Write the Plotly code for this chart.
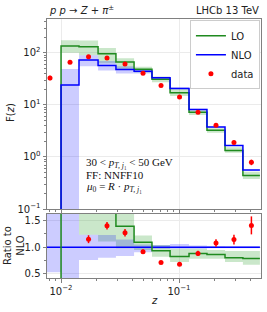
import plotly.graph_objects as go
import numpy as np

# ---------------- data ----------------
z_edges = [0.0065, 0.0100, 0.0142, 0.0206, 0.0292, 0.0416, 0.059, 0.084, 0.1216, 0.1726, 0.2455, 0.348, 0.485]
lo_vals = [0.0, 136, 131, 96, 67, 48.4, 31.0, 17.1, 7.2, 3.24, 1.33, 0.44]
nlo_vals = [0.0, 24, 73, 57, 48, 44.3, 33.3, 20.7, 8.15, 3.75, 1.66, 0.56]
lo_band_lo = [100, 90, 63, 47, 42, 27.3, 14.9, 6.36, 2.93, 1.2, 0.375]
lo_band_hi = [175, 173, 124, 79, 54, 34.6, 20.1, 7.9, 3.56, 1.54, 0.52]
nlo_band_lo = [0.001, 55.5, 45.6, 40, 40, 32.3, 20.1, 7.9, 3.67, 1.63, 0.55]
nlo_band_hi = [49, 90, 70, 55, 46.5, 34.6, 21.9, 8.4, 3.83, 1.69, 0.57]
nlo_ratio_band_bin0 = [0.53, 3.0]
data_vals = [33, 66, 84, 80, 61, 40.5, 23.7, 14.1, 7.2, 4.05, 1.9, 0.79]
data_rel_err = [0.10, 0.06, 0.065, 0.05, 0.055, 0.045, 0.04, 0.045, 0.055, 0.065, 0.08, 0.12]

GREEN = "#1f8a1f"
BLUE = "#0000ff"
RED = "#ff0000"
GREEN_F = "rgba(44,160,44,0.25)"
BLUE_F = "rgba(0,0,255,0.2)"

edges = np.array(z_edges)
centers = np.sqrt(edges[:-1] * edges[1:])
lo = np.array(lo_vals, dtype=float)
nlo = np.array(nlo_vals, dtype=float)
data = np.array(data_vals)
err = data * np.array(data_rel_err)


def step(vals):
    v = list(vals)
    return v + [v[-1]]


fig = go.Figure()

# ---------- top panel ----------
e1 = list(edges[1:])
fig.add_trace(go.Scatter(x=e1, y=step(lo_band_lo), line_shape="hv", mode="lines",
                         line=dict(width=0), showlegend=False, hoverinfo="skip", xaxis="x", yaxis="y"))
fig.add_trace(go.Scatter(x=e1, y=step(lo_band_hi), line_shape="hv", mode="lines", fill="tonexty",
                         fillcolor=GREEN_F, line=dict(width=0), showlegend=False, hoverinfo="skip",
                         xaxis="x", yaxis="y"))
fig.add_trace(go.Scatter(x=e1, y=step(nlo_band_lo), line_shape="hv", mode="lines",
                         line=dict(width=0), showlegend=False, hoverinfo="skip", xaxis="x", yaxis="y"))
fig.add_trace(go.Scatter(x=e1, y=step(nlo_band_hi), line_shape="hv", mode="lines", fill="tonexty",
                         fillcolor=BLUE_F, line=dict(width=0), showlegend=False, hoverinfo="skip",
                         xaxis="x", yaxis="y"))

lo_plot = np.where(lo > 0, lo, 1e-4)
nlo_plot = np.where(nlo > 0, nlo, 1e-4)
fig.add_trace(go.Scatter(x=list(edges), y=step(lo_plot), line_shape="hv", mode="lines",
                         line=dict(color=GREEN, width=1.5), name="LO", xaxis="x", yaxis="y"))
fig.add_trace(go.Scatter(x=list(edges), y=step(nlo_plot), line_shape="hv", mode="lines",
                         line=dict(color=BLUE, width=1.5), name="NLO", xaxis="x", yaxis="y"))
fig.add_trace(go.Scatter(x=list(centers), y=list(data), mode="markers", name="data",
                         marker=dict(color=RED, size=5),
                         error_y=dict(type="data", array=list(err), color=RED, thickness=1.5, width=0),
                         xaxis="x", yaxis="y"))

# ---------- ratio panel ----------
safe = np.where(nlo > 0, nlo, np.nan)
r_lo_lo = list(np.array(lo_band_lo) / nlo[1:])
r_lo_hi = list(np.array(lo_band_hi) / nlo[1:])
r_nlo_lo = [nlo_ratio_band_bin0[0]] + list(np.array(nlo_band_lo) / nlo[1:])
r_nlo_hi = [nlo_ratio_band_bin0[1]] + list(np.array(nlo_band_hi) / nlo[1:])

fig.add_trace(go.Scatter(x=e1, y=step(r_lo_lo), line_shape="hv", mode="lines",
                         line=dict(width=0), showlegend=False, hoverinfo="skip", xaxis="x2", yaxis="y2"))
fig.add_trace(go.Scatter(x=e1, y=step(r_lo_hi), line_shape="hv", mode="lines", fill="tonexty",
                         fillcolor=GREEN_F, line=dict(width=0), showlegend=False, hoverinfo="skip",
                         xaxis="x2", yaxis="y2"))
fig.add_trace(go.Scatter(x=list(edges), y=step(r_nlo_lo), line_shape="hv", mode="lines",
                         line=dict(width=0), showlegend=False, hoverinfo="skip", xaxis="x2", yaxis="y2"))
fig.add_trace(go.Scatter(x=list(edges), y=step(r_nlo_hi), line_shape="hv", mode="lines", fill="tonexty",
                         fillcolor=BLUE_F, line=dict(width=0), showlegend=False, hoverinfo="skip",
                         xaxis="x2", yaxis="y2"))

ratio_lo = np.where(nlo > 0, lo / np.where(nlo > 0, nlo, 1), 0.0)
fig.add_trace(go.Scatter(x=list(edges), y=step(np.ones_like(nlo)), line_shape="hv", mode="lines",
                         line=dict(color=BLUE, width=1.5), showlegend=False, xaxis="x2", yaxis="y2"))
fig.add_trace(go.Scatter(x=list(edges), y=step(ratio_lo), line_shape="hv", mode="lines",
                         line=dict(color=GREEN, width=1.5), showlegend=False, xaxis="x2", yaxis="y2"))
r_data = data / safe
r_err = err / safe
fig.add_trace(go.Scatter(x=list(centers), y=[None if np.isnan(v) else v for v in r_data], mode="markers",
                         marker=dict(color=RED, size=5), showlegend=False,
                         error_y=dict(type="data", array=[0 if np.isnan(v) else v for v in r_err],
                                      color=RED, thickness=1.5, width=0),
                         xaxis="x2", yaxis="y2"))

# ---------- axes ----------
W, H = 267, 312
L, R, T, B = 47, 6, 19, 34
ph = H - T - B
top_dom = [(278 - 209) / ph, 1.0]
bot_dom = [0.0, (278 - 214) / ph]

FRAME = "#808080"
GRID = "#ebebeb"
TICKFONT = dict(family="DejaVu Sans", size=10, color="#222")

x_minor = [v * 10.0 ** d for d in (-3, -2, -1) for v in range(2, 10)]
y_minor = [v * 10.0 ** d for d in (-1, 0, 1, 2) for v in range(2, 10)]

xcommon = dict(type="log", range=[-2.119, -0.305], showline=True, mirror=True, linecolor=FRAME,
               linewidth=1, ticks="outside", ticklen=3.5, tickcolor=FRAME, showgrid=True,
               gridcolor=GRID, gridwidth=1, zeroline=False, tickmode="array",
               tickvals=[0.01, 0.1], ticktext=["10<sup>−2</sup>", "10<sup>−1</sup>"],
               tickfont=TICKFONT,
               minor=dict(ticks="outside", ticklen=2, tickcolor=FRAME, tickvals=x_minor, showgrid=False))

fig.update_layout(
    width=W, height=H, margin=dict(l=L, r=R, t=T, b=B),
    paper_bgcolor="white", plot_bgcolor="white",
    xaxis=dict(**xcommon, domain=[0, 1], anchor="y", showticklabels=False),
    xaxis2=dict(**xcommon, domain=[0, 1], anchor="y2", matches="x", showticklabels=True),
    yaxis=dict(type="log", range=[-1, 2.65], domain=top_dom, anchor="x", showline=True, mirror=True,
               linecolor=FRAME, linewidth=1, ticks="outside", ticklen=3.5, tickcolor=FRAME,
               showgrid=True, gridcolor=GRID, zeroline=False, tickmode="array",
               tickvals=[0.1, 1, 10, 100],
               ticktext=["10<sup>−1</sup>", "10<sup>0</sup>", "10<sup>1</sup>", "10<sup>2</sup>"],
               tickfont=TICKFONT,
               minor=dict(ticks="outside", ticklen=2, tickcolor=FRAME, tickvals=y_minor, showgrid=False)),
    yaxis2=dict(range=[0.42, 1.625], domain=bot_dom, anchor="x2", showline=True, mirror=True,
                linecolor=FRAME, linewidth=1, ticks="outside", ticklen=3.5, tickcolor=FRAME,
                showgrid=True, gridcolor=GRID, zeroline=False, tickmode="array",
                tickvals=[0.5, 1.0, 1.5], ticktext=["0.5", "1.0", "1.5"], tickfont=TICKFONT,
                minor=dict(ticks="outside", ticklen=2, tickcolor=FRAME, dtick=0.25, showgrid=False)),
    legend=dict(x=0.995, y=0.995, xanchor="right", yanchor="top", yref="paper",
                bgcolor="white", bordercolor="#cccccc", borderwidth=1, traceorder="normal",
                font=dict(family="DejaVu Sans", size=10, color="#222"),
                itemwidth=30, tracegroupgap=0),
    showlegend=True,
)


def px_x(x):
    return (x - L) / (W - L - R)


def px_y(y):
    return (H - B - y) / ph


SERIF = dict(family="Liberation Serif", size=11, color="#111")
ann = [
    dict(x=px_x(47), y=px_y(10), xanchor="left", yanchor="middle",
         text="<i>p p</i> → <i>Z</i> + <i>π</i><sup>±</sup>", font=dict(family="DejaVu Sans", size=10, color="#222")),
    dict(x=px_x(261), y=px_y(10), xanchor="right", yanchor="middle",
         text="LHCb 13 TeV", font=dict(family="DejaVu Sans", size=10, color="#222")),
    dict(x=px_x(84), y=px_y(163), xanchor="left", yanchor="middle",
         text="30 &lt; <i>p</i><sub><i>T, j</i>₁</sub> &lt; 50 GeV", font=SERIF),
    dict(x=px_x(84), y=px_y(175), xanchor="left", yanchor="middle",
         text="FF: NNFF10", font=SERIF),
    dict(x=px_x(84), y=px_y(187), xanchor="left", yanchor="middle",
         text="<i>μ</i><sub>0</sub> = <i>R</i> · <i>p</i><sub><i>T, j</i>₁</sub>", font=SERIF),
    dict(x=px_x(10), y=px_y(113), xanchor="center", yanchor="middle", textangle=-90,
         text="F(<i>z</i>)", font=dict(family="DejaVu Sans", size=10, color="#222")),
    dict(x=px_x(14), y=px_y(246), xanchor="center", yanchor="middle", textangle=-90,
         text="Ratio to<br>NLO", font=dict(family="DejaVu Sans", size=10, color="#222")),
    dict(x=px_x(154), y=px_y(300), xanchor="center", yanchor="middle",
         text="<i>z</i>", font=dict(family="DejaVu Sans", size=10, color="#222")),
]
for a in ann:
    a.update(xref="paper", yref="paper", showarrow=False)
fig.update_layout(annotations=ann)

fig.write_html("out.html", config={"displayModeBar": False},
               post_script="document.body.style.margin='0';document.body.style.overflow='hidden';")
